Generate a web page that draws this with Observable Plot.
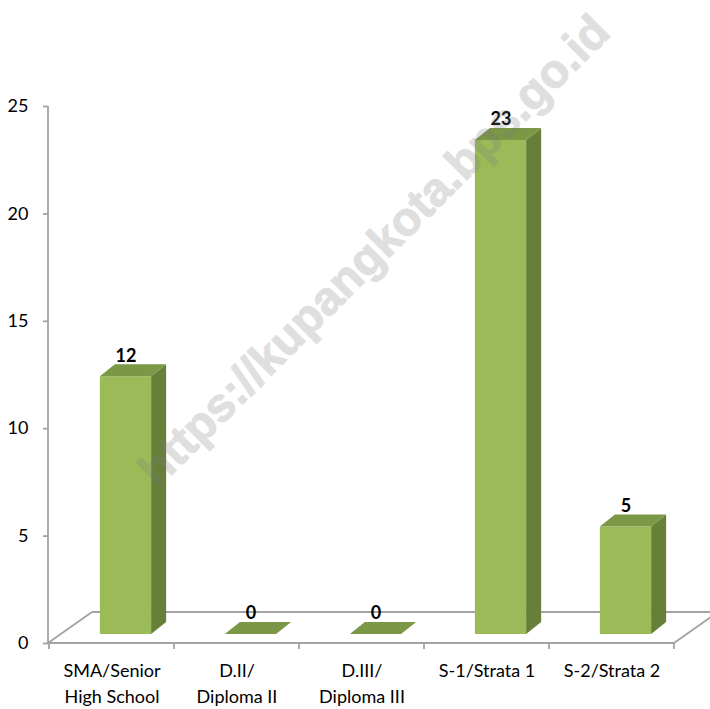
<!DOCTYPE html>
<html><head><meta charset="utf-8">
<script src="https://cdn.jsdelivr.net/npm/d3@7"></script>
<script src="https://cdn.jsdelivr.net/npm/@observablehq/plot@0.6"></script>
<style>body{margin:0;background:#fff}</style>
</head><body><div id="chart"></div>
<script>
const categories = ["SMA/Senior\nHigh School", "D.II/\nDiploma II", "D.III/\nDiploma III", "S-1/Strata 1", "S-2/Strata 2"];
const values = [12, 0, 0, 23, 5];
const yTicks = [0, 5, 10, 15, 20, 25];
const watermark = "https://kupangkota.bps.go.id";

const rows = categories.map((c, i) => ({category: c, value: values[i]}));

const FRONT = "#9bbb59", SIDE = "#66803a", TOP = "#7b9846", AXIS = "#a3a3a3";
const LIFT = 9, SHIFT = 14, BARFRAC = 0.41, DX = 15, DY = -12, FX = 44, FY = -31;

function floorMark() {
  return Plot.ruleY([0], {y: d => d, render(index, scales, vals, dims) {
    const x = scales.x, y = scales.y;
    const bw = x.bandwidth();
    const L = dims.marginLeft, R = dims.width - dims.marginRight;
    const y0 = y(0);
    const g = d3.create("svg:g").attr("stroke", AXIS).attr("stroke-width", 1.8).attr("fill", "none");
    const line = (x1, y1, x2, y2) => g.append("line").attr("x1", x1).attr("y1", y1).attr("x2", x2).attr("y2", y2);
    line(L, y(d3.max(yTicks)), L, y0 + 0.5);
    line(L, y0, R, y0);
    line(L + FX, y0 + FY, R + FX, y0 + FY);
    line(L, y0, L + FX, y0 + FY);
    line(R, y0, R + FX, y0 + FY);
    const bounds = categories.map(c => x(c)).concat([x(categories[categories.length - 1]) + bw]);
    for (const b of bounds) line(b, y0, b, y0 + 6);
    return g.node();
  }});
}

function bars3d(data) {
  return Plot.barY(data, {x: "category", y: "value", render(index, scales, vals) {
    const bw = scales.x.bandwidth();
    const w = bw * BARFRAC;
    const g = d3.create("svg:g");
    for (const i of index) {
      const cx = vals.x[i] + bw / 2 + SHIFT;
      const l = cx - w / 2, r = cx + w / 2;
      const y0 = vals.y1[i] - LIFT, yt = vals.y2[i] - LIFT;
      if (y0 - yt > 0.5) {
        g.append("rect").attr("x", l).attr("y", yt).attr("width", w).attr("height", y0 - yt).attr("fill", FRONT);
        g.append("polygon").attr("points", [[r, y0], [r, yt], [r + DX, yt + DY], [r + DX, y0 + DY]].join(" ")).attr("fill", SIDE);
      }
      g.append("polygon").attr("points", [[l, yt], [r, yt], [r + DX, yt + DY], [l + DX, yt + DY]].join(" ")).attr("fill", TOP);
    }
    return g.node();
  }});
}

const chart = Plot.plot({
  width: 710,
  height: 709,
  marginLeft: 48,
  marginRight: 36,
  marginTop: 106,
  marginBottom: 66,
  style: {fontFamily: "Lato", fontSize: "18px", color: "black", background: "white"},
  x: {type: "band", domain: categories, padding: 0, axis: null},
  y: {domain: [0, 25], axis: null},
  marks: [
    floorMark(),
    Plot.axisY(yTicks, {tickSize: 5, tickPadding: 15, fontSize: 18, stroke: AXIS, strokeWidth: 1.8, fill: "black", label: null}),
    bars3d(rows),
    Plot.text(rows, {x: "category", y: "value", text: d => String(d.value), dx: SHIFT, dy: -30, fontWeight: "bold", fontSize: 18, fill: "black"}),
    Plot.text(rows, {x: "category", text: "category", frameAnchor: "bottom", lineAnchor: "top", dy: 16, lineHeight: 1.4, fontSize: 18, fill: "black"}),
    Plot.text([watermark], {text: d => d, frameAnchor: "middle", rotate: -45, dx: 13, dy: -124, fontSize: 47, fontWeight: "bold", fontFamily: "Liberation Sans", fill: "#7a7a7a", stroke: "#7a7a7a", strokeWidth: 1.2, opacity: 0.23})
  ]
});
document.getElementById("chart").append(chart);
</script>
</body></html>
